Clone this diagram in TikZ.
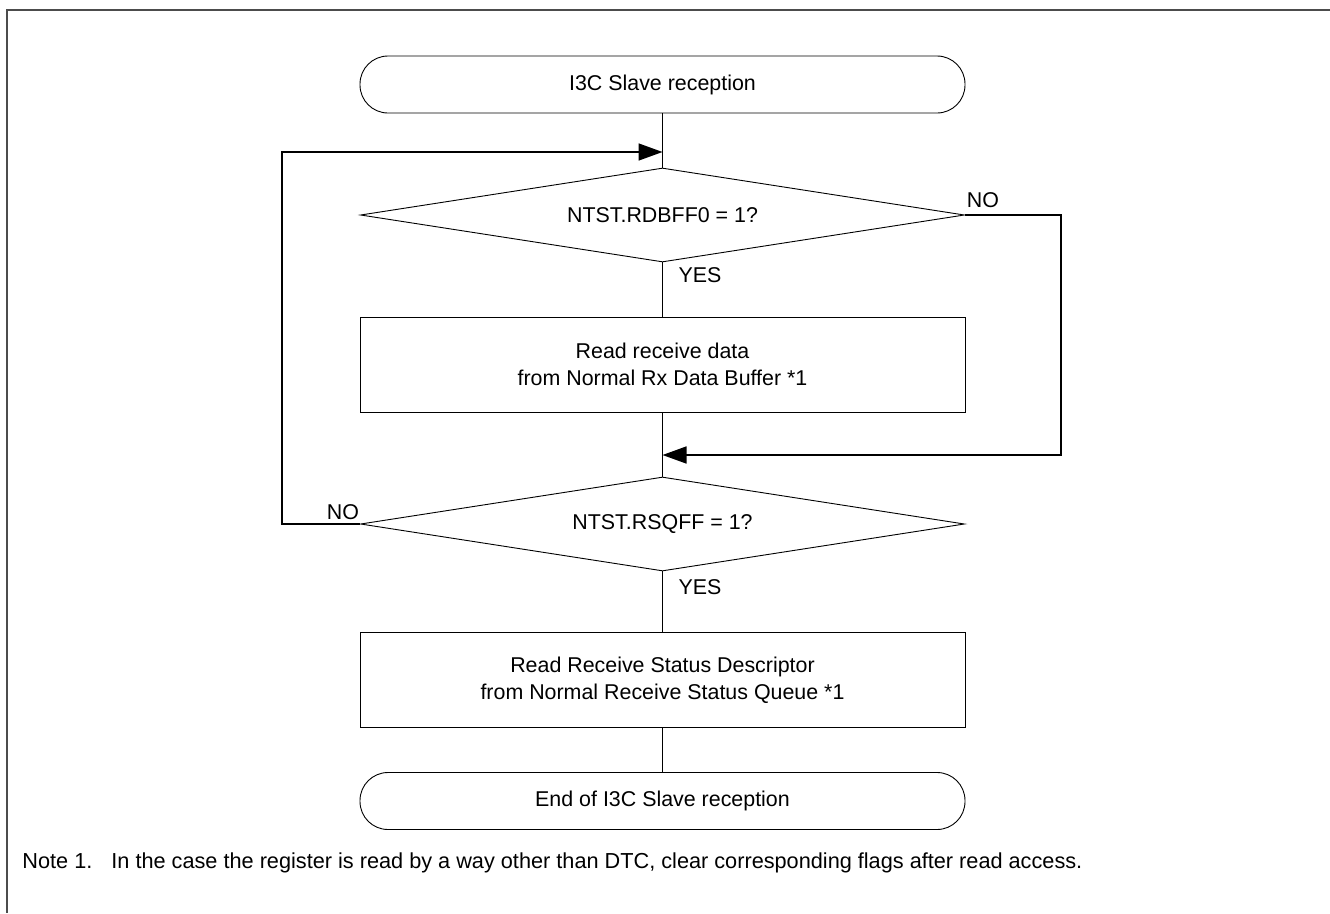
\documentclass[tikz,border=0pt]{standalone}
\usepackage{fontspec}
\setmainfont{Liberation Sans}
\usetikzlibrary{shapes.geometric,arrows.meta,positioning}

\tikzset{
  terminal/.style={draw, rounded corners=28pt, minimum width=605pt, minimum height=57pt, inner sep=0pt},
  decision/.style={draw, diamond, aspect=6.4, minimum width=604pt, minimum height=94pt, inner sep=0pt},
  process/.style={draw, rectangle, minimum width=605pt, minimum height=95pt, align=center, inner sep=0pt},
  flowline/.style={line width=1.6pt},
  flowarrow/.style={flowline, -{Triangle[length=24pt,width=17pt]}},
  tag/.style={inner sep=0pt}
}

\begin{document}
\begin{tikzpicture}[x=1pt, y=-1pt, line width=0.9pt, font=\fontsize{21.4}{27}\selectfont]
  \useasboundingbox (0,0) rectangle (1330,913);
  % frame on top and left
  \draw[line width=1.5pt, black!70] (1330,10) -- (7,10) -- (7,913);

  % nodes
  \node[terminal] (start) at (662.5,84.5) {I3C Slave reception};
  \node[decision] (dec1) at (662.5,215) {NTST.RDBFF0 = 1?};
  \node[process]  (box1) at (662.5,364.5) {Read receive data\\from Normal Rx Data Buffer *1};
  \node[decision] (dec2) at (662.5,524) {NTST.RSQFF = 1?};
  \node[process]  (box2) at (662.5,680) {Read Receive Status Descriptor\\from Normal Receive Status Queue *1};
  \node[terminal] (stop) at (662.5,801) {End of I3C Slave reception};

  \coordinate (joinA) at (662.5,152);
  \coordinate (joinB) at (662.5,455);

  % main flow
  \draw[flowline] (start) -- (dec1);
  \draw[flowline] (dec1) -- (box1);
  \draw[flowline] (box1) -- (dec2);
  \draw[flowline] (dec2) -- (box2);
  \draw[flowline] (box2) -- (stop);

  % branches
  \draw[flowarrow] (dec2.west) -- ++(-78,0) |- (joinA);
  \draw[flowarrow] (dec1.east) -- ++(96,0) |- (joinB);

  \node[tag] (yes1) at (700,275) {YES};
  \node[tag] (yes2) at (700,587) {YES};
  \node[tag] (no1)  at (983,200) {NO};
  \node[tag] (no2)  at (343,512) {NO};

  \node[tag, anchor=west, font=\fontsize{21.7}{26}\selectfont] (note) at (22,863)
    {Note 1.\hspace{19pt}In the case the register is read by a way other than DTC, clear corresponding flags after read access.};
\end{tikzpicture}
\end{document}
